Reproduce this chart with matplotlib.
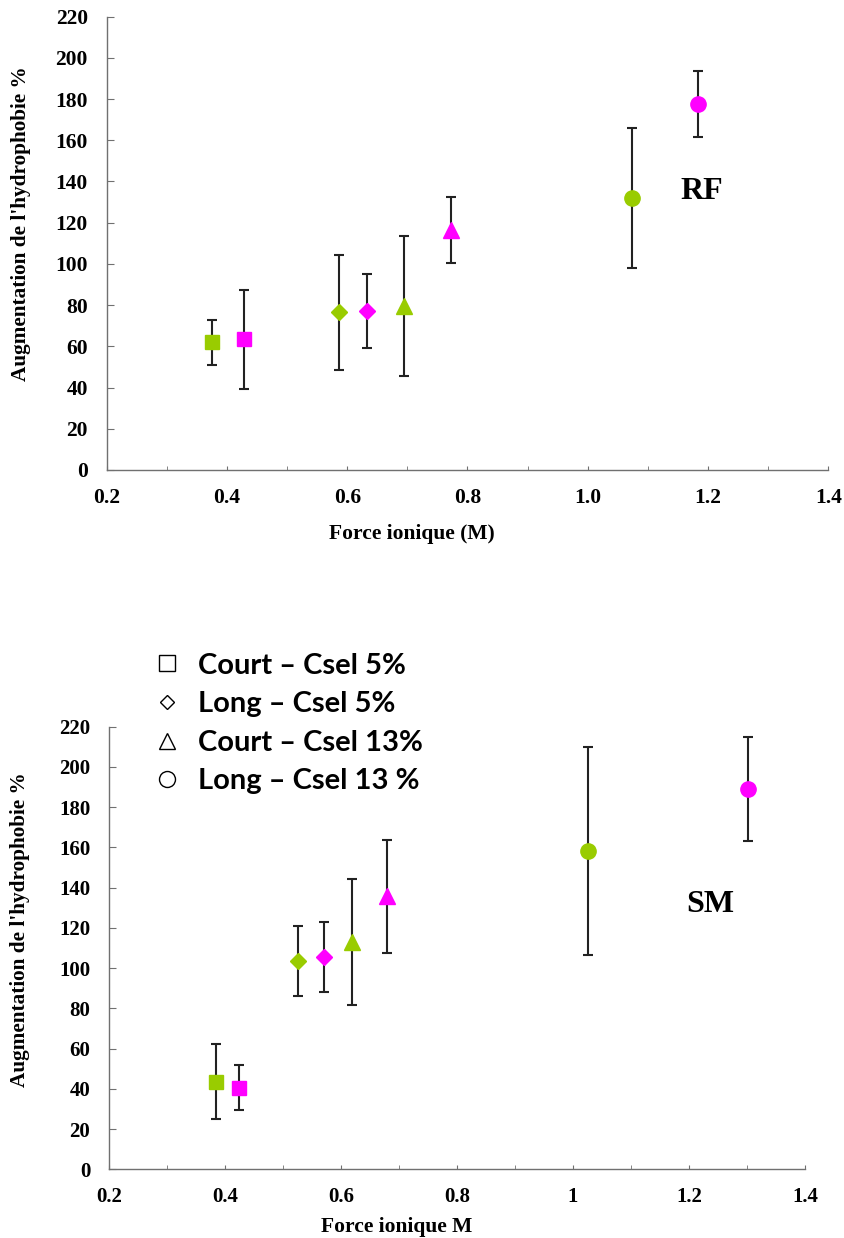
import matplotlib
matplotlib.use('Agg')
import matplotlib.pyplot as plt
from matplotlib.lines import Line2D
from matplotlib.ticker import MultipleLocator

plt.rcParams['font.family'] = ['Liberation Serif', 'DejaVu Serif']
plt.rcParams['font.weight'] = 'bold'
plt.rcParams['axes.labelweight'] = 'bold'

markers = ['s', 'D', '^', 'o']
msizes = [10.5, 8, 11, 11]
labels = ['Court – Csel 5%', 'Long – Csel 5%', 'Court – Csel 13%', 'Long – Csel 13 %']
green = '#99cc00'
magenta = '#ff00ff'

# RF panel
rf_green_x = [0.375, 0.587, 0.695, 1.073]
rf_green_y = [62, 76.5, 79.6, 132]
rf_green_err = [11, 28, 34, 34]
rf_mag_x = [0.428, 0.633, 0.772, 1.183]
rf_mag_y = [63.4, 77, 116.5, 177.5]
rf_mag_err = [24, 18, 16, 16]

# SM panel
sm_green_x = [0.384, 0.526, 0.619, 1.026]
sm_green_y = [43.6, 103.6, 113, 158.2]
sm_green_err = [18.5, 17.5, 31.5, 51.5]
sm_mag_x = [0.424, 0.571, 0.679, 1.302]
sm_mag_y = [40.6, 105.5, 135.7, 189]
sm_mag_err = [11, 17.5, 28, 26]

rf_xticklabels = ['0.2', '0.4', '0.6', '0.8', '1.0', '1.2', '1.4']
sm_xticklabels = ['0.2', '0.4', '0.6', '0.8', '1', '1.2', '1.4']

axcol = '#707070'
fig = plt.figure(figsize=(8.44, 12.38), dpi=100)
ax1 = fig.add_axes([0.1264, 0.6204, 0.855, 0.3662])
ax2 = fig.add_axes([0.1291, 0.0555, 0.8246, 0.3575])


def draw(ax, gx, gy, ge, mx, my, me, xtl, xlabel, tag, tagpos, ylabpos, xlabpos, tsize):
    for i in range(4):
        for x, y, e, c in [(gx[i], gy[i], ge[i], green), (mx[i], my[i], me[i], magenta)]:
            ax.errorbar(x, y, yerr=e, fmt=markers[i], ms=msizes[i], color=c,
                        ecolor='#222222', elinewidth=1.5, capsize=3.3,
                        capthick=1.5, zorder=3)
    ax.set_xlim(0.2, 1.4)
    ax.set_ylim(0, 220)
    ax.set_xticks([0.2, 0.4, 0.6, 0.8, 1.0, 1.2, 1.4])
    ax.set_xticklabels(xtl)
    ax.xaxis.set_minor_locator(MultipleLocator(0.1))
    ax.set_yticks(range(0, 221, 20))
    for s in ['top', 'right']:
        ax.spines[s].set_visible(False)
    for s in ['left', 'bottom']:
        ax.spines[s].set_color(axcol)
        ax.spines[s].set_linewidth(1.0)
    ax.tick_params(axis='y', direction='in', length=5, color=axcol, pad=13.5,
                   labelsize=tsize)
    ax.tick_params(axis='x', which='both', direction='in', length=3, color=axcol,
                   pad=13, labelsize=tsize)
    ax.set_xlabel(xlabel, fontsize=15.5, fontweight='bold')
    ax.set_ylabel("Augmentation de l'hydrophobie %", fontsize=15.3, fontweight='bold')
    ax.xaxis.set_label_coords(*xlabpos)
    ax.xaxis.label.set_va('center')
    ax.yaxis.set_label_coords(*ylabpos)
    ax.yaxis.label.set_va('center')
    ax.text(tagpos[0], tagpos[1], tag, fontsize=23, fontweight='bold',
            ha='center', va='center')


draw(ax1, rf_green_x, rf_green_y, rf_green_err, rf_mag_x, rf_mag_y, rf_mag_err,
     rf_xticklabels, 'Force ionique (M)', 'RF', (1.189, 135),
     (-0.119, 0.543), (0.423, -0.141), 15.5)
draw(ax2, sm_green_x, sm_green_y, sm_green_err, sm_mag_x, sm_mag_y, sm_mag_err,
     sm_xticklabels, 'Force ionique M', 'SM', (1.236, 131.7),
     (-0.128, 0.541), (0.414, -0.130), 15)

leg_ms = [11.5, 7.6, 11, 11.5]
handles = [Line2D([], [], marker=m, ls='none', mfc='white', mec='black', mew=1.0, ms=s)
           for m, s in zip(markers, leg_ms)]
leg = fig.legend(handles, labels, loc='upper left', bbox_to_anchor=(0.15, 0.494),
                 frameon=False, handlelength=1.0, handletextpad=0.55, labelspacing=0.43,
                 prop={'family': 'Lato', 'weight': 'bold', 'size': 21})

fig.savefig('out.png', dpi=100)
